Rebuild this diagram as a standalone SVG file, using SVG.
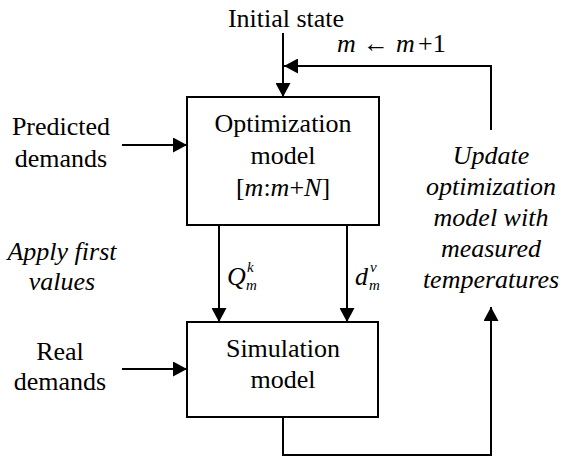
<svg xmlns="http://www.w3.org/2000/svg" width="563" height="467" viewBox="0 0 563 467" font-family="'Liberation Serif', 'Times New Roman', Times, 'DejaVu Serif', serif">
<style>
text{font-family:'Liberation Serif','Times New Roman',Times,'DejaVu Serif',serif;font-size:26px;fill:#000}
.c{text-anchor:middle}
.i{font-style:italic}
.box{fill:#fff;stroke:#000;stroke-width:2}
.ln{fill:none;stroke:#000;stroke-width:2}
.sm{font-size:15px}
</style>
<defs>
<marker id="ah" viewBox="0 0 14 15" refX="14" refY="7.5" markerWidth="14" markerHeight="15" markerUnits="userSpaceOnUse" orient="auto">
<path d="M0,0 L14,7.5 L0,15 Z" fill="#000"/>
</marker>
</defs>
<rect width="563" height="467" fill="#fff"/>
<g id="connectors">
<path class="ln" d="M283,33 V97" marker-end="url(#ah)"/>
<path class="ln" d="M491,130 V66 H284" marker-end="url(#ah)"/>
<path class="ln" d="M122,145 H187" marker-end="url(#ah)"/>
<path class="ln" d="M219,225 V322" marker-end="url(#ah)"/>
<path class="ln" d="M347,225 V322" marker-end="url(#ah)"/>
<path class="ln" d="M122,369 H187" marker-end="url(#ah)"/>
<path class="ln" d="M283,417 V455 H491 V307" marker-end="url(#ah)"/>
</g>
<g id="initial-state"><text class="c" x="286" y="27">Initial state</text></g>
<g id="increment"><text y="52"><tspan class="i" x="337">m</tspan><tspan x="376" text-anchor="middle">←</tspan><tspan class="i" x="396">m</tspan><tspan x="418">+1</tspan></text></g>
<g id="predicted-demands"><text class="c" x="61" y="135">Predicted</text><text class="c" x="61" y="167">demands</text></g>
<g id="optimization-model">
<rect class="box" x="187" y="97" width="192" height="128"/>
<text class="c" x="283" y="132">Optimization</text>
<text class="c" x="283" y="164">model</text>
<text class="c" x="283" y="196">[<tspan class="i">m</tspan>:<tspan class="i">m</tspan>+<tspan class="i">N</tspan>]</text>
</g>
<g id="apply-first-values"><text class="c i" x="62" y="260">Apply first</text><text class="c i" x="62" y="290">values</text></g>
<g id="label-q"><text class="i" x="227" y="285">Q</text><text class="i sm" x="247" y="272">k</text><text class="i sm" x="246" y="290">m</text></g>
<g id="label-d"><text class="i" x="355" y="285">d</text><text class="i sm" x="370" y="272">v</text><text class="i sm" x="369" y="290">m</text></g>
<g id="update-text">
<text class="c i" x="491" y="164">Update</text>
<text class="c i" x="491" y="195">optimization</text>
<text class="c i" x="491" y="226">model with</text>
<text class="c i" x="491" y="257">measured</text>
<text class="c i" x="491" y="288">temperatures</text>
</g>
<g id="real-demands"><text class="c" x="60" y="360">Real</text><text class="c" x="60" y="390">demands</text></g>
<g id="simulation-model">
<rect class="box" x="187" y="322" width="191" height="95"/>
<text class="c" x="283" y="357">Simulation</text>
<text class="c" x="283" y="388">model</text>
</g>
</svg>
